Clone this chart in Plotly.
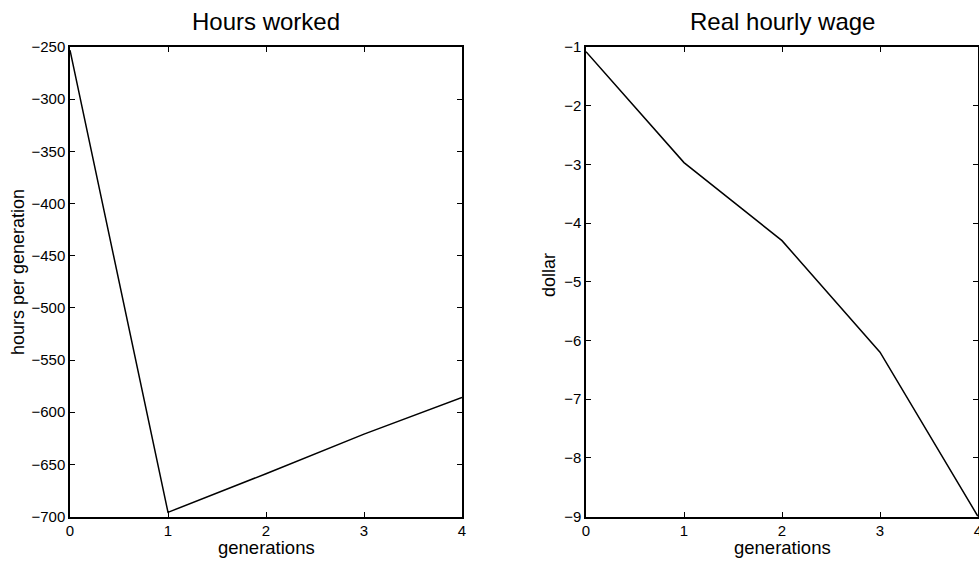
import plotly.graph_objects as go

generations = [0, 1, 2, 3, 4]
hours_worked = [-253, -696, -659, -621, -586]
real_wage = [-1.08, -2.97, -4.30, -6.20, -9.0]

left_yticks = [-700, -650, -600, -550, -500, -450, -400, -350, -300, -250]
right_yticks = [-9, -8, -7, -6, -5, -4, -3, -2, -1]
xticks = [0, 1, 2, 3, 4]

W, H = 979, 561
FONT = "Liberation Sans, Arial, Helvetica, sans-serif"

def px_x(x):
    return x / W

def px_y(y):
    return 1 - y / H

fig = go.Figure()
fig.add_trace(go.Scatter(x=generations, y=hours_worked, mode="lines",
                         line=dict(color="black", width=1.5), xaxis="x", yaxis="y",
                         showlegend=False, hoverinfo="skip"))
fig.add_trace(go.Scatter(x=generations, y=real_wage, mode="lines",
                         line=dict(color="black", width=1.5), xaxis="x2", yaxis="y2",
                         showlegend=False, hoverinfo="skip", cliponaxis=False))

axis_common = dict(showline=True, linecolor="black", linewidth=1.5, mirror="allticks",
                   ticks="inside", ticklen=5, tickwidth=1, tickcolor="black",
                   showgrid=False, zeroline=False, tickfont=dict(family=FONT, size=15, color="black"),
                   automargin=False, ticklabeloverflow="allow")

top, bottom = 47, 516.5
fig.update_layout(
    width=W, height=H,
    margin=dict(l=0, r=0, t=0, b=0),
    paper_bgcolor="white", plot_bgcolor="white",
    xaxis=dict(domain=[px_x(70), px_x(462)], range=[0, 4], tickvals=xticks, anchor="y", **axis_common),
    yaxis=dict(domain=[px_y(bottom), px_y(top)], range=[-700, -250], tickvals=left_yticks, anchor="x", **axis_common),
    xaxis2=dict(domain=[px_x(586), px_x(978)], range=[0, 4], tickvals=xticks, anchor="y2", **axis_common),
    yaxis2=dict(domain=[px_y(bottom), px_y(top)], range=[-9, -1], tickvals=right_yticks, anchor="x2", **axis_common),
)

ann = []
def add_text(text, x, y, size, angle=0):
    ann.append(dict(text=text, x=px_x(x), y=px_y(y), xref="paper", yref="paper",
                    showarrow=False, textangle=angle, xanchor="center", yanchor="middle",
                    font=dict(family=FONT, size=size, color="black")))

add_text("Hours worked", 266, 22, 24)
add_text("Real hourly wage", 782, 22, 24)
add_text("generations", 266, 547, 18.5)
add_text("generations", 782, 547, 18.5)
add_text("hours per generation", 18, 272, 18, -90)
add_text("dollar", 549, 275, 18, -90)
fig.update_layout(annotations=ann)

fig.write_html("out.html", config={"displayModeBar": False},
               post_script="document.body.style.margin='0';document.body.style.padding='0';")
